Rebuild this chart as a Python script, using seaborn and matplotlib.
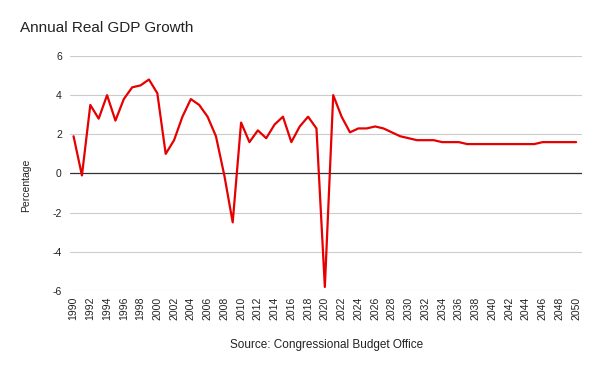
import numpy as np
import pandas as pd
import matplotlib
matplotlib.use("Agg")
import matplotlib.pyplot as plt
import seaborn as sns

# ==============================
# Data
# ==============================
years = list(range(1990, 2051))
growth = [
    1.9, -0.1, 3.5, 2.8, 4.0, 2.7, 3.8, 4.4, 4.5, 4.8,   # 1990-1999
    4.1, 1.0, 1.7, 2.9, 3.8, 3.5, 2.9, 1.9, -0.1, -2.5,  # 2000-2009
    2.6, 1.6, 2.2, 1.8, 2.5, 2.9, 1.6, 2.4, 2.9, 2.3,    # 2010-2019
    -5.8, 4.0, 2.9, 2.1, 2.3, 2.3, 2.4, 2.3, 2.1, 1.9,   # 2020-2029
    1.8, 1.7, 1.7, 1.7, 1.6, 1.6, 1.6, 1.5, 1.5, 1.5,    # 2030-2039
    1.5, 1.5, 1.5, 1.5, 1.5, 1.5, 1.6, 1.6, 1.6, 1.6,    # 2040-2049
    1.6,                                                 # 2050
]
y_ticks = [-6, -4, -2, 0, 2, 4, 6]
x_ticks = list(range(1990, 2051, 2))

df = pd.DataFrame({"year": years, "growth": growth})

# ==============================
# Plot
# ==============================
sns.set_style("white")
plt.rcParams["font.family"] = ["Liberation Sans", "DejaVu Sans"]

fig = plt.figure(figsize=(6, 3.71), dpi=100)
ax = fig.add_axes([0.117, 0.216, 0.853, 0.633])

for t in y_ticks:
    if t != 0:
        ax.axhline(t, color="#cccccc", lw=0.8, zorder=0)
ax.axhline(0, color="#333333", lw=0.9, zorder=1)

sns.lineplot(data=df, x="year", y="growth", color="#e60000", lw=1.6, ax=ax, zorder=3)

ax.set_xlim(1989.6, 2050.7)
ax.set_ylim(-6, 6)
ax.set_yticks(y_ticks)
ax.set_yticklabels([str(t) for t in y_ticks], fontsize=7.5, color="#222222")
ax.set_xticks(x_ticks)
ax.set_xticklabels([str(t) for t in x_ticks], rotation=90, fontsize=7.5, color="#222222")
ax.tick_params(length=0, pad=4)
ax.tick_params(axis="y", pad=6)
for s in ax.spines.values():
    s.set_visible(False)

ax.set_xlabel("")
ax.set_ylabel("")
fig.text(0.044, 0.50, "Percentage", fontsize=7.5, color="#222222", rotation=90, ha="center", va="center")

fig.text(0.033, 0.925, "Annual Real GDP Growth", fontsize=11, color="#222222", ha="left", va="center")
fig.text(0.545, 0.07, "Source: Congressional Budget Office", fontsize=8.5, color="#222222", ha="center", va="center")

fig.savefig("out.png", dpi=100)
